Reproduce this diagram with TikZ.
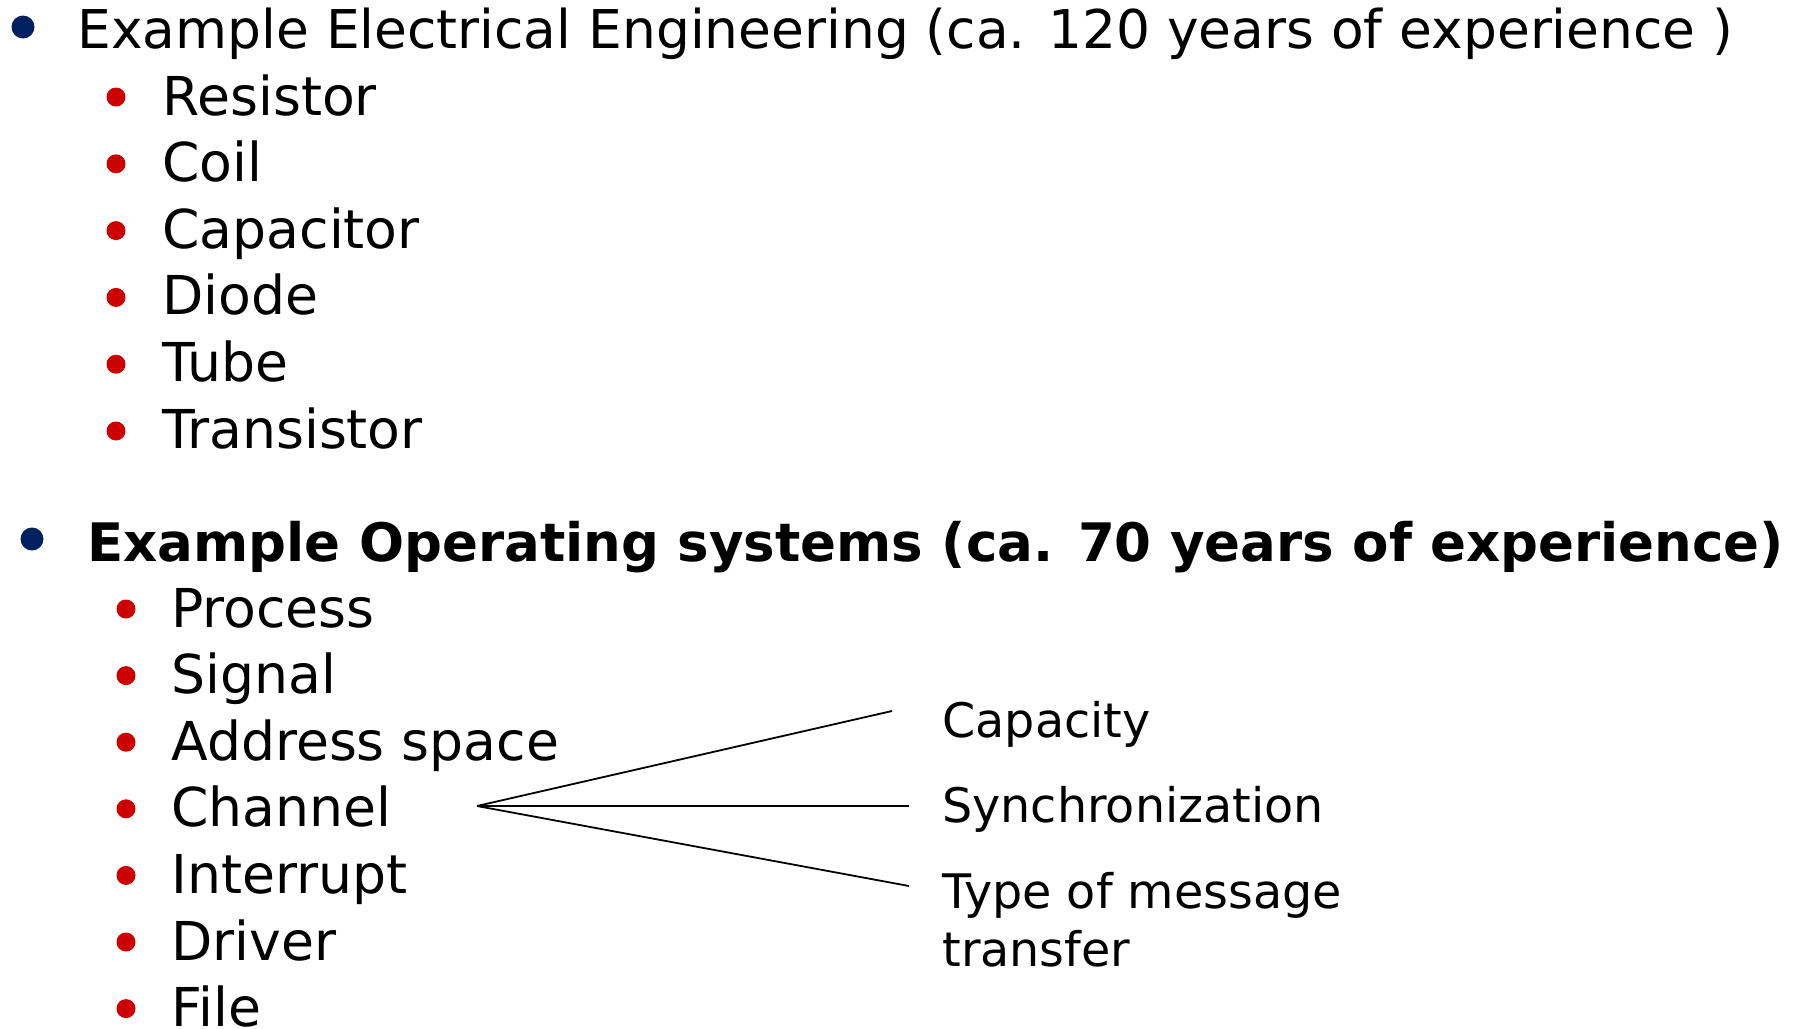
\documentclass[tikz,border=0pt]{standalone}
\usepackage{fontspec}
\setmainfont{DejaVu Sans}
\usepackage{xcolor}
\usepackage{tikz}
\usetikzlibrary{calc}
\definecolor{navy}{HTML}{002060}
\definecolor{bulred}{HTML}{CC0000}
\definecolor{ink}{HTML}{000000}
\tikzset{
  topdot/.style={circle, fill=navy, inner sep=0pt, minimum size=11.5pt},
  subdot/.style={circle, fill=bulred, inner sep=0pt, minimum size=9.5pt},
  head/.style={anchor=base west, inner sep=0pt, text=ink, font=\fontsize{26.7}{31}\selectfont},
  headb/.style={head, font=\fontsize{26.5}{31}\selectfont\bfseries},
  itm/.style={anchor=base west, inner sep=0pt, text=ink, font=\fontsize{26.8}{31}\selectfont},
  prop/.style={anchor=base west, inner sep=0pt, text=ink, align=left, font=\fontsize{23.8}{29}\selectfont},
  fan/.style={draw=ink, line width=0.9pt},
}

\begin{document}
\begin{tikzpicture}[x=0.5pt, y=-0.5pt]
  \useasboundingbox (0,0) rectangle (1804,1028);
  % electrical engineering
  \node[topdot] (b1) at (23,27) {};
  \node[head] (ee) at (77,48) {Example Electrical Engineering (ca. 120 years of experience )};
  \foreach \t [count=\i] in {Resistor,Coil,Capacitor,Diode,Tube,Transistor} {
    \node[subdot] (eb\i) at (116,{97+(\i-1)*66.8}) {};
    \node[itm] (ee\i) at (162,{115+(\i-1)*66.6}) {\t};
  }
  % operating systems
  \node[topdot] (b2) at (32,539) {};
  \node[headb] (os) at (87,561) {Example Operating systems (ca. 70 years of experience)};
  \foreach \t [count=\i] in {Process,Signal,Address space,Channel,Interrupt,Driver,File} {
    \node[subdot] (ob\i) at (126,{609+(\i-1)*66.6}) {};
    \node[itm] (os\i) at (171,{627+(\i-1)*66.6}) {\t};
  }
  % channel properties
  \node[prop] (cap) at (942,737) {Capacity};
  \node[prop] (sync) at (942,822) {Synchronization};
  \node[prop] (kind) at (942,966) {Type of message\\transfer};
  \coordinate (F) at (477,806);
  \coordinate (Fa) at (892,711);
  \coordinate (Fb) at (909,806);
  \coordinate (Fc) at (909,886);
  \draw[fan] (F) -- (Fa);
  \draw[fan] (F) -- (Fb);
  \draw[fan] (F) -- (Fc);
\end{tikzpicture}
\end{document}
